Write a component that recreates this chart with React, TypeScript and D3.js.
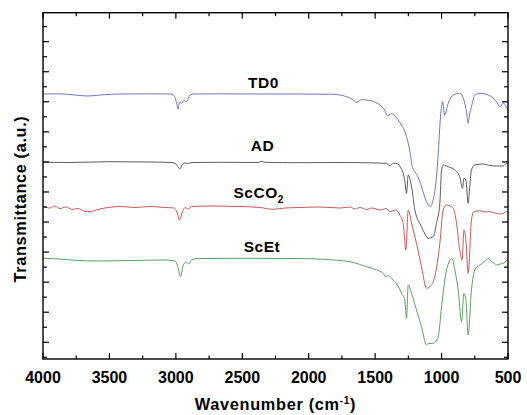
import React from "react";
import * as d3 from "d3";

// Spectra: [wavenumber (cm^-1), transmittance (a.u., offset)]
const td0: [number, number][] = [
  [4000, 265], [3872, 265.2], [3759, 264], [3661, 263], [3571, 264], [3420, 265], [3195, 265.2], [3044, 265],
  [3014, 263.5], [2995, 256], [2983, 249.7], [2972, 257.3], [2957, 255.7], [2940, 258.7], [2920, 257.3], [2894, 264], [2863, 265],
  [2668, 265.2], [2367, 265], [2066, 265], [1817, 264.7], [1764, 264], [1714, 262.3], [1674, 260], [1639, 256.7],
  [1601, 259.3], [1539, 258.5], [1494, 256.5], [1463, 253.7], [1433, 250], [1406, 243.3], [1376, 245.3], [1350, 243],
  [1326, 239], [1298, 233], [1275, 227], [1253, 217], [1238, 207], [1223, 194], [1200, 187], [1177, 182], [1151, 172],
  [1113, 157.3], [1083, 152.3], [1064, 159], [1049, 169], [1034, 189], [1025, 206], [1008, 242.3], [993, 257.3],
  [976, 244], [950, 255.7], [912, 264], [863, 265.7], [825, 255.7], [809, 244], [800, 235.7], [790, 244], [775, 252.3],
  [750, 264], [712, 265.7], [649, 264], [587, 257.3], [562, 252.3], [536, 255.7], [511, 252], [500, 249],
];

const ad: [number, number][] = [
  [4000, 196.7], [3797, 196.5], [3496, 197.3], [3195, 197], [3029, 196.5], [2999, 195], [2984, 192], [2969, 190],
  [2954, 194], [2931, 196], [2909, 195.5], [2879, 196.5], [2668, 196.7], [2382, 196.5], [2354, 197.7], [2329, 196.7],
  [2066, 196.3], [1764, 196.5], [1414, 195.7], [1389, 193], [1364, 195.7], [1328, 195], [1313, 192.3], [1289, 185.7],
  [1275, 177], [1264, 165.7], [1251, 184], [1226, 172.3], [1201, 149], [1151, 132.3], [1125, 125], [1101, 120.7],
  [1063, 122.3], [1038, 135.7], [1013, 155.7], [1000, 189], [988, 194], [950, 192.3], [900, 189], [863, 182.3],
  [842, 170.7], [832, 180.7], [817, 179], [800, 155.7], [790, 169], [775, 189], [750, 194], [687, 195], [635, 193.5],
  [587, 193], [536, 193], [511, 195.7], [500, 195],
];

const scco2: [number, number][] = [
  [4000, 152.5], [3947, 151], [3910, 153], [3872, 150.5], [3827, 152], [3782, 149.5], [3737, 150.5], [3691, 148],
  [3646, 147.3], [3601, 149], [3556, 150.5], [3496, 151.7], [3420, 152.5], [3308, 151.5], [3195, 152.5], [3082, 151.5],
  [3014, 151], [2992, 147], [2973, 139], [2954, 146], [2931, 151.5], [2909, 150], [2879, 152.5], [2743, 153],
  [2517, 152.5], [2367, 151.5], [2269, 149.7], [2179, 151], [2066, 151.5], [1915, 152], [1764, 151], [1689, 152],
  [1651, 150], [1614, 151.5], [1564, 149.5], [1524, 151], [1463, 149], [1418, 150.5], [1389, 147.3], [1350, 149],
  [1314, 144], [1289, 135.7], [1269, 109], [1251, 149], [1226, 135.7], [1189, 115.7], [1151, 92.3], [1113, 70.7],
  [1088, 72.3], [1051, 82.3], [1013, 115.7], [988, 149], [963, 154], [912, 150.7], [887, 135.7], [863, 109],
  [845, 99], [832, 129], [817, 119], [800, 85.7], [775, 139], [757, 147.3], [712, 148.3], [673, 147], [637, 147.3],
  [598, 146], [562, 145], [530, 146], [511, 147.3], [500, 146.5],
];

const scet: [number, number][] = [
  [4000, 100.7], [3872, 100], [3759, 98.7], [3571, 98], [3345, 98.5], [3082, 99], [3006, 98], [2984, 92],
  [2965, 82.3], [2946, 93], [2924, 97], [2901, 95], [2879, 99.5], [2818, 100.5], [2517, 100.7], [2066, 100.5],
  [1815, 99], [1689, 97.3], [1564, 92.3], [1490, 89], [1439, 85.7], [1418, 82.3], [1401, 83.5], [1366, 79],
  [1328, 73], [1298, 65], [1277, 59], [1264, 40.7], [1251, 74], [1226, 65.7], [1189, 49], [1151, 32.3], [1113, 14],
  [1098, 15.5], [1063, 15.7], [1038, 19], [1025, 22.3], [1000, 52.3], [963, 89], [921, 100.5], [900, 89], [875, 69],
  [850, 37.3], [832, 65.7], [817, 59], [800, 24], [775, 69], [750, 89], [712, 94], [673, 98], [649, 100.7],
  [624, 97.3], [605, 96], [587, 94], [560, 95], [536, 95.7], [515, 98], [500, 99],
];

const seriesNames = ["TD0", "AD", "ScCO2", "ScEt"];
const seriesColors = ["#7377bd", "#5e5e5e", "#c45a5a", "#5f9e63"];
const xTickLabels = [4000, 3500, 3000, 2500, 2000, 1500, 1000, 500];

const W = 527;
const H = 415;
const M = { left: 43, right: 508, top: 12.7, bottom: 359 };

export default function App() {
  const x = d3.scaleLinear().domain([4000, 500]).range([M.left, M.right]);
  const y = d3.scaleLinear().domain([0, 346.3]).range([M.bottom, M.top]);
  const line = d3
    .line<[number, number]>()
    .x((d) => x(d[0]))
    .y((d) => y(d[1]))
    .curve(d3.curveMonotoneX);
  const data = [td0, ad, scco2, scet];

  const xMinor = d3.range(4000, 499, -250);
  const yTicks = d3.range(0, 23).map((i) => 1.7 + i * 15.03);
  const font = "'Liberation Sans', Arial, sans-serif";

  return (
    <svg
      width={W}
      height={H}
      style={{ position: "absolute", left: 0, top: 0, background: "#fff" }}
      fontFamily={font}
    >
      <defs>
        <clipPath id="plotclip">
          <rect x={M.left} y={M.top} width={M.right - M.left} height={M.bottom - M.top} />
        </clipPath>
      </defs>
      <g clipPath="url(#plotclip)">
        {data.map((d, i) => (
          <path key={seriesNames[i]} d={line(d) || ""} fill="none" stroke={seriesColors[i]} strokeWidth={1} />
        ))}
      </g>
      {/* x ticks top & bottom */}
      {xMinor.map((v) => {
        const major = v % 500 === 0;
        const len = major ? 6 : 3.5;
        return (
          <g key={"xt" + v} stroke="#000" strokeWidth={1.2}>
            <line x1={x(v)} x2={x(v)} y1={M.bottom} y2={M.bottom - len} />
            <line x1={x(v)} x2={x(v)} y1={M.top} y2={M.top + len} />
          </g>
        );
      })}
      {/* y ticks left & right */}
      {yTicks.map((v, i) => {
        const len = i % 2 === 1 ? 6 : 4;
        return (
          <g key={"yt" + i} stroke="#000" strokeWidth={1.2}>
            <line x1={M.left} x2={M.left + len} y1={y(v)} y2={y(v)} />
            <line x1={M.right} x2={M.right - len} y1={y(v)} y2={y(v)} />
          </g>
        );
      })}
      <rect
        x={M.left}
        y={M.top}
        width={M.right - M.left}
        height={M.bottom - M.top}
        fill="none"
        stroke="#000"
        strokeWidth={1.4}
      />
      {xTickLabels.map((v) => (
        <text key={"xl" + v} x={x(v)} y={382.7} textAnchor="middle" fontSize={16} fontWeight="bold" fill="#000">
          {v}
        </text>
      ))}
      <text x={275.5} y={410} textAnchor="middle" fontSize={16.3} fontWeight="bold" letterSpacing={0.7} fill="#000">
        Wavenumber (cm
        <tspan dy={-6} fontSize={10}>-1</tspan>
        <tspan dy={6}>)</tspan>
      </text>
      <text
        transform="translate(25.7,199) rotate(-90)"
        textAnchor="middle"
        fontSize={16.3}
        fontWeight="bold"
        letterSpacing={0.65}
        fill="#000"
      >
        Transmittance (a.u.)
      </text>
      <text x={263.5} y={87.5} textAnchor="middle" fontSize={15.5} fontWeight="bold" letterSpacing={0.5}>
        {seriesNames[0]}
      </text>
      <text x={262.5} y={150.5} textAnchor="middle" fontSize={15.5} fontWeight="bold" letterSpacing={0.5}>
        {seriesNames[1]}
      </text>
      <text x={233.5} y={198} fontSize={15.5} fontWeight="bold" letterSpacing={0.5}>
        ScCO
        <tspan dy={5} fontSize={10}>2</tspan>
      </text>
      <text x={262} y={251.5} textAnchor="middle" fontSize={15.5} fontWeight="bold" letterSpacing={0.5}>
        {seriesNames[3]}
      </text>
    </svg>
  );
}
